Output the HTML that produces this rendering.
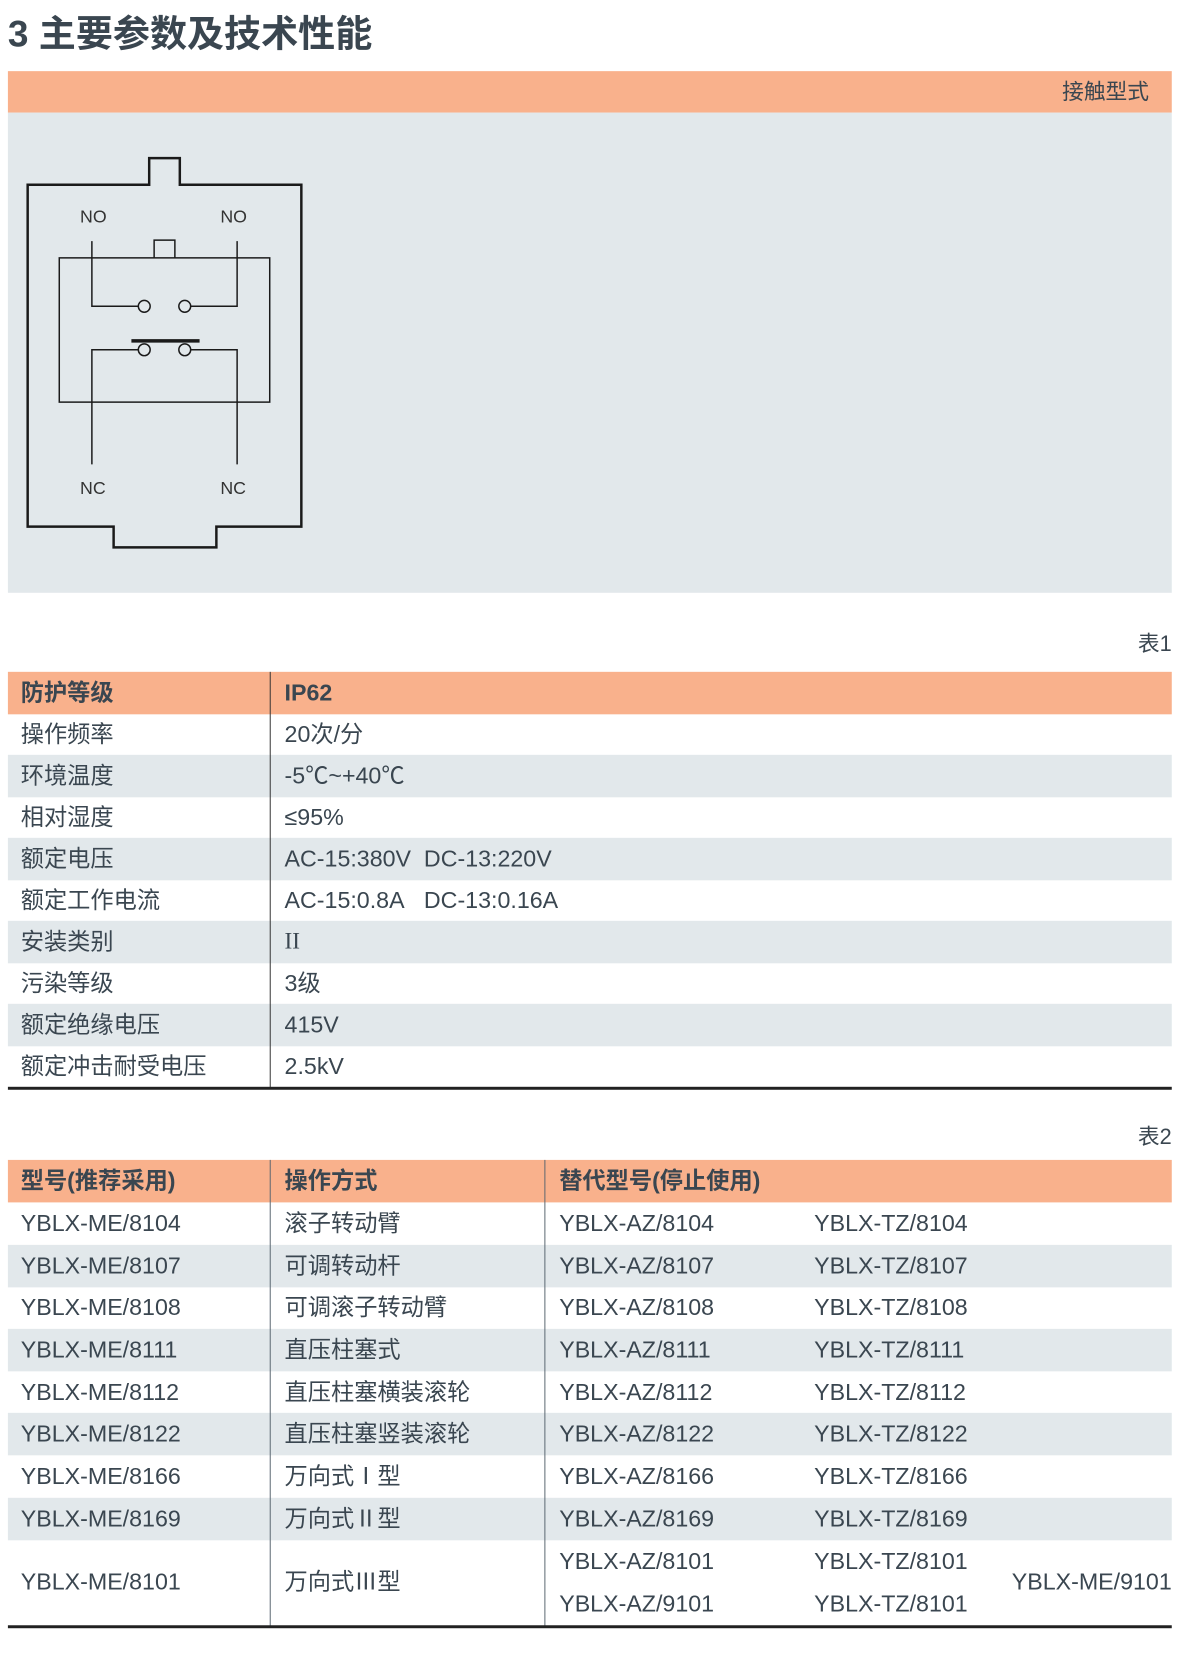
<!DOCTYPE html>
<html><head><meta charset="utf-8"><style>
*{margin:0;padding:0;box-sizing:border-box}
body{width:1200px;height:1653px;background:#fff;position:relative;overflow:hidden;font-family:"Liberation Sans","Noto Sans CJK SC",sans-serif;color:#3a4650}
#w{position:absolute;left:0;top:0;width:1200px;height:1680px;transform:scale(0.988);transform-origin:0 0}
.a{position:absolute;white-space:nowrap}
.row{position:absolute;left:8px;width:1178px;height:43px}
.g{background:#e2e8eb}
.o{background:#f9b18c}
.t{position:absolute;font-size:23.5px;line-height:43px;white-space:nowrap}
.b{font-weight:bold}
.v{position:absolute;width:1px;background:#5a6670}
</style></head><body><div id="w">
<div class="a" style="left:8px;top:12px;font-size:37.5px;font-weight:bold;color:#3a4650;line-height:44px">3 主要参数及技术性能</div>
<div class="a o" style="left:8px;top:72px;width:1178px;height:42px"></div>
<div class="a" style="right:37px;top:79px;font-size:22px;line-height:28px">接触型式</div>
<div class="a g" style="left:8px;top:114px;width:1178px;height:486px"></div>
<svg class="a" style="left:0;top:0" width="400" height="600" viewBox="0 0 400 600">
<g fill="none" stroke="#1a1a1a">
<path d="M151 187V160H182V187H305V533H219V554H115V533H28V187Z" stroke-width="2.5"/>
<rect x="60" y="261" width="213" height="146" stroke-width="1.5"/>
<path d="M156 261V243H177V261" stroke-width="1.5"/>
<path d="M93 244V310H140M193 310H240V244" stroke-width="1.5"/>
<path d="M93 470V354H140M193 354H240V470" stroke-width="1.5"/>
<circle cx="146" cy="310" r="6" stroke-width="1.5" fill="#e2e8eb"/>
<circle cx="187" cy="310" r="6" stroke-width="1.5" fill="#e2e8eb"/>
<circle cx="146" cy="354" r="6" stroke-width="1.5" fill="#e2e8eb"/>
<circle cx="187" cy="354" r="6" stroke-width="1.5" fill="#e2e8eb"/>
<path d="M133 345H202" stroke-width="3.5"/>
</g>
<g font-family="Liberation Sans,sans-serif" font-size="18" fill="#333">
<text x="81" y="225">NO</text><text x="223" y="225">NO</text>
<text x="81" y="500">NC</text><text x="223" y="500">NC</text>
</g></svg>
<div class="a" style="right:14px;top:634px;font-size:22px">表1</div>
<div class="row o" style="top:680px"></div>
<div class="row g" style="top:764px"></div>
<div class="row g" style="top:848px"></div>
<div class="row g" style="top:932px"></div>
<div class="row g" style="top:1016px"></div>
<div class="v" style="left:273px;top:680px;height:422px;background:#333"></div>
<div class="a" style="left:8px;top:1100px;width:1178px;height:2.5px;background:#222"></div>
<div class="t b" style="left:21px;top:680px">防护等级</div><div class="t b" style="left:288px;top:680px">IP62</div>
<div class="t" style="left:21px;top:722px">操作频率</div><div class="t" style="left:288px;top:722px">20次/分</div>
<div class="t" style="left:21px;top:764px">环境温度</div><div class="t" style="left:288px;top:764px">-5℃~+40℃</div>
<div class="t" style="left:21px;top:806px">相对湿度</div><div class="t" style="left:288px;top:806px">≤95%</div>
<div class="t" style="left:21px;top:848px">额定电压</div><div class="t" style="left:288px;top:848px">AC-15:380V&nbsp; DC-13:220V</div>
<div class="t" style="left:21px;top:890px">额定工作电流</div><div class="t" style="left:288px;top:890px">AC-15:0.8A&nbsp;&nbsp; DC-13:0.16A</div>
<div class="t" style="left:21px;top:932px">安装类别</div><div class="t" style="left:288px;top:932px;font-family:'Liberation Serif',serif">II</div>
<div class="t" style="left:21px;top:974px">污染等级</div><div class="t" style="left:288px;top:974px">3级</div>
<div class="t" style="left:21px;top:1016px">额定绝缘电压</div><div class="t" style="left:288px;top:1016px">415V</div>
<div class="t" style="left:21px;top:1058px">额定冲击耐受电压</div><div class="t" style="left:288px;top:1058px">2.5kV</div>

<div class="a" style="right:14px;top:1133px;font-size:22px">表2</div>
<div class="row o" style="top:1174px"></div>
<div class="row g" style="top:1260px"></div>
<div class="row g" style="top:1345px"></div>
<div class="row g" style="top:1430px"></div>
<div class="row g" style="top:1516px"></div>
<div class="v" style="left:273px;top:1174px;height:472px"></div>
<div class="v" style="left:551px;top:1174px;height:472px"></div>
<div class="a" style="left:8px;top:1645px;width:1178px;height:2.5px;background:#222"></div>
<div class="t b" style="left:21px;top:1174px">型号(推荐采用)</div><div class="t b" style="left:288px;top:1174px">操作方式</div><div class="t b" style="left:566px;top:1174px">替代型号(停止使用)</div>
<div class="t" style="left:21px;top:1217px">YBLX-ME/8104</div><div class="t" style="left:288px;top:1217px">滚子转动臂</div><div class="t" style="left:566px;top:1217px">YBLX-AZ/8104</div><div class="t" style="left:824px;top:1217px">YBLX-TZ/8104</div>
<div class="t" style="left:21px;top:1260px">YBLX-ME/8107</div><div class="t" style="left:288px;top:1260px">可调转动杆</div><div class="t" style="left:566px;top:1260px">YBLX-AZ/8107</div><div class="t" style="left:824px;top:1260px">YBLX-TZ/8107</div>
<div class="t" style="left:21px;top:1302px">YBLX-ME/8108</div><div class="t" style="left:288px;top:1302px">可调滚子转动臂</div><div class="t" style="left:566px;top:1302px">YBLX-AZ/8108</div><div class="t" style="left:824px;top:1302px">YBLX-TZ/8108</div>
<div class="t" style="left:21px;top:1345px">YBLX-ME/8111</div><div class="t" style="left:288px;top:1345px">直压柱塞式</div><div class="t" style="left:566px;top:1345px">YBLX-AZ/8111</div><div class="t" style="left:824px;top:1345px">YBLX-TZ/8111</div>
<div class="t" style="left:21px;top:1388px">YBLX-ME/8112</div><div class="t" style="left:288px;top:1388px">直压柱塞横装滚轮</div><div class="t" style="left:566px;top:1388px">YBLX-AZ/8112</div><div class="t" style="left:824px;top:1388px">YBLX-TZ/8112</div>
<div class="t" style="left:21px;top:1430px">YBLX-ME/8122</div><div class="t" style="left:288px;top:1430px">直压柱塞竖装滚轮</div><div class="t" style="left:566px;top:1430px">YBLX-AZ/8122</div><div class="t" style="left:824px;top:1430px">YBLX-TZ/8122</div>
<div class="t" style="left:21px;top:1473px">YBLX-ME/8166</div><div class="t" style="left:288px;top:1473px">万向式Ⅰ型</div><div class="t" style="left:566px;top:1473px">YBLX-AZ/8166</div><div class="t" style="left:824px;top:1473px">YBLX-TZ/8166</div>
<div class="t" style="left:21px;top:1516px">YBLX-ME/8169</div><div class="t" style="left:288px;top:1516px">万向式Ⅱ型</div><div class="t" style="left:566px;top:1516px">YBLX-AZ/8169</div><div class="t" style="left:824px;top:1516px">YBLX-TZ/8169</div>
<div class="t" style="left:21px;top:1580px">YBLX-ME/8101</div><div class="t" style="left:288px;top:1580px">万向式Ⅲ型</div>
<div class="t" style="left:566px;top:1559px">YBLX-AZ/8101</div><div class="t" style="left:824px;top:1559px">YBLX-TZ/8101</div>
<div class="t" style="left:566px;top:1602px">YBLX-AZ/9101</div><div class="t" style="left:824px;top:1602px">YBLX-TZ/8101</div>
<div class="t" style="right:14px;top:1580px">YBLX-ME/9101</div>
</div></body></html>
